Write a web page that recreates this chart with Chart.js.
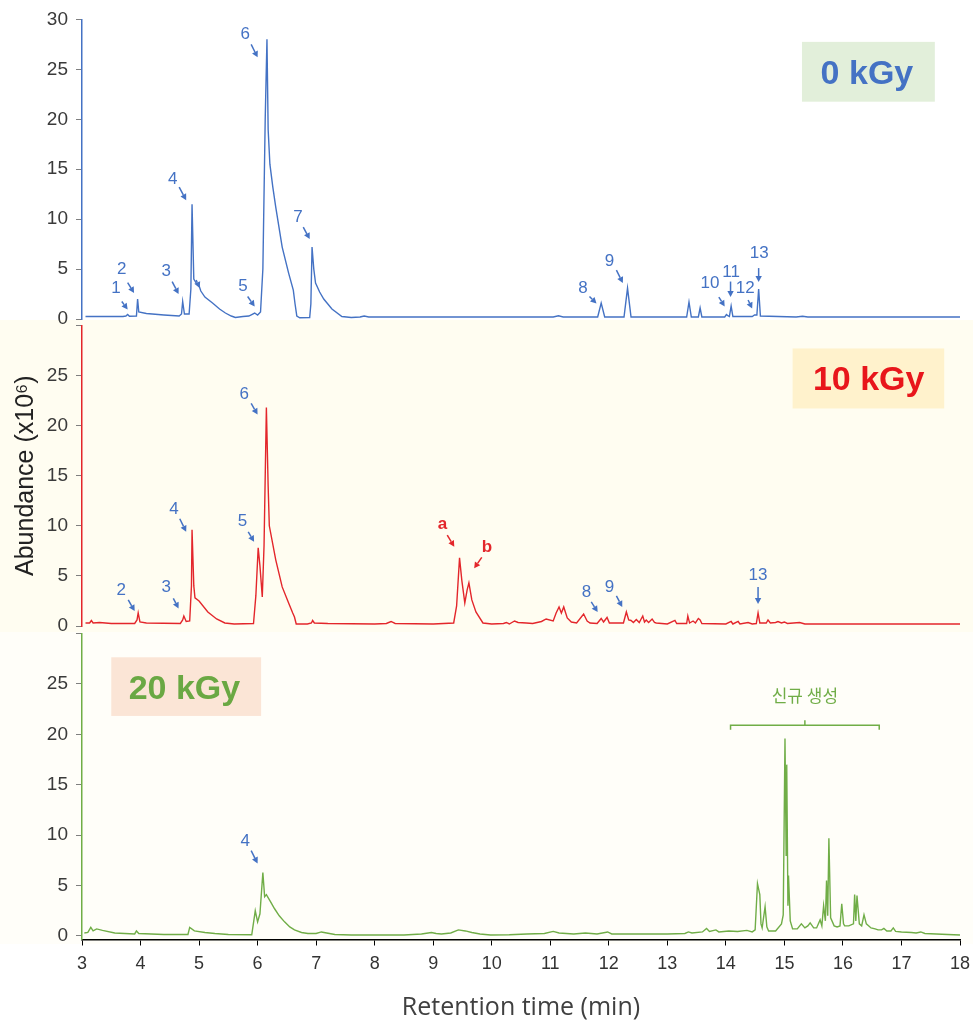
<!DOCTYPE html>
<html>
<head>
<meta charset="utf-8">
<script src="https://cdn.jsdelivr.net/npm/chart.js@4.4.1/dist/chart.umd.min.js"></script>
<style>
  html, body { margin: 0; padding: 0; background: #fff; }
  #page { position: relative; width: 973px; height: 1023px; overflow: hidden; }
  .band { position: absolute; left: 0; width: 973px; }
  canvas { position: absolute; left: 0; }
</style>
</head>
<body>
<div id="page">
  <div class="band" style="top:320px;height:312px;background:#fffdf1"></div>
  <div class="band" style="top:632px;height:312px;background:#fffef9"></div>
  <canvas id="c0" width="973" height="340" style="top:0px"></canvas>
  <canvas id="c10" width="973" height="341" style="top:305px"></canvas>
  <canvas id="c20" width="973" height="410" style="top:613px"></canvas>
</div>
<script>
// retention time (min), abundance (x10^6)
const trace0kGy = [
  [3.06,0.25],[3.70,0.25],[3.75,0.3],[3.78,0.45],[3.81,0.28],[3.93,0.3],[3.95,2.0],[3.97,0.7],
  [4.10,0.55],[4.40,0.4],[4.66,0.3],[4.70,0.5],[4.72,1.75],[4.75,0.5],[4.83,0.5],[4.86,3.0],
  [4.88,11.5],[4.91,4.0],[4.95,3.6],[4.99,3.5],[5.03,2.8],[5.10,2.2],[5.23,1.6],[5.35,1.0],
  [5.45,0.6],[5.55,0.3],[5.62,0.15],[5.75,0.25],[5.85,0.3],[5.90,0.45],[5.95,0.6],[6.00,0.4],
  [6.05,0.7],[6.09,5.0],[6.13,20.0],[6.16,28.0],[6.18,19.0],[6.21,15.5],[6.26,13.2],[6.31,11.2],
  [6.42,7.2],[6.53,4.6],[6.61,2.9],[6.64,1.5],[6.67,0.3],[6.72,0.12],[6.89,0.15],[6.91,1.5],
  [6.93,7.2],[6.96,5.0],[6.99,3.6],[7.06,2.7],[7.13,2.0],[7.27,1.0],[7.44,0.25],[7.60,0.15],
  [7.75,0.2],[7.82,0.3],[7.90,0.2],[9.00,0.2],[11.05,0.2],[11.14,0.32],[11.22,0.2],[11.81,0.2],
  [11.87,1.6],[11.93,0.2],[12.26,0.2],[12.32,3.1],[12.38,0.2],[13.33,0.2],[13.37,1.7],[13.41,0.2],
  [13.53,0.2],[13.56,1.1],[13.59,0.2],[13.98,0.2],[14.01,0.45],[14.04,0.3],[14.06,0.25],[14.09,1.3],
  [14.12,0.25],[14.45,0.25],[14.49,0.4],[14.53,0.4],[14.56,3.0],[14.59,0.3],[15.20,0.2],[15.31,0.28],
  [15.40,0.2],[18.00,0.2]
];

const trace10kGy = [
  [3.06,0.3],[3.13,0.3],[3.16,0.55],[3.19,0.3],[3.30,0.35],[3.50,0.25],[3.90,0.25],[3.94,0.6],
  [3.96,1.3],[3.99,0.4],[4.10,0.3],[4.68,0.25],[4.72,0.6],[4.74,1.0],[4.78,0.45],[4.84,0.5],
  [4.87,4.0],[4.88,9.6],[4.91,4.0],[4.93,2.8],[5.00,2.5],[5.15,1.4],[5.30,0.7],[5.44,0.3],
  [5.60,0.2],[5.93,0.25],[5.97,3.0],[6.01,7.8],[6.04,6.0],[6.08,2.9],[6.11,8.0],[6.15,21.8],
  [6.18,14.0],[6.20,10.0],[6.31,6.6],[6.42,3.9],[6.53,2.3],[6.60,1.3],[6.63,0.9],[6.66,0.2],
  [6.85,0.2],[6.92,0.3],[6.94,0.55],[6.97,0.3],[7.20,0.25],[8.00,0.2],[8.20,0.25],[8.28,0.45],
  [8.35,0.25],[9.00,0.2],[9.35,0.3],[9.40,2.0],[9.45,6.8],[9.49,4.5],[9.54,2.3],[9.58,3.6],
  [9.61,4.3],[9.66,2.6],[9.73,1.4],[9.85,0.3],[10.00,0.2],[10.20,0.25],[10.25,0.35],[10.30,0.2],
  [10.39,0.5],[10.45,0.35],[10.59,0.3],[10.70,0.25],[10.85,0.45],[10.93,0.7],[11.05,0.5],[11.10,1.3],
  [11.15,1.9],[11.19,1.3],[11.23,1.9],[11.29,0.8],[11.36,0.4],[11.45,0.3],[11.57,1.2],[11.63,0.5],
  [11.68,0.3],[11.80,0.25],[11.87,0.75],[11.91,0.4],[11.97,0.85],[12.01,0.3],[12.25,0.3],[12.30,1.4],
  [12.34,0.6],[12.38,0.55],[12.42,0.35],[12.47,0.65],[12.52,0.35],[12.58,1.0],[12.61,0.4],[12.64,0.6],
  [12.68,0.35],[12.74,0.7],[12.78,0.35],[12.81,0.3],[13.00,0.2],[13.13,0.55],[13.16,0.25],[13.33,0.25],
  [13.35,1.0],[13.38,0.3],[13.44,0.5],[13.48,0.3],[13.53,0.75],[13.56,0.6],[13.59,0.25],[14.00,0.2],
  [14.09,0.45],[14.12,0.2],[14.21,0.45],[14.24,0.2],[14.38,0.35],[14.45,0.2],[14.52,0.25],[14.55,1.3],
  [14.58,0.3],[14.69,0.3],[14.72,0.6],[14.76,0.3],[14.85,0.35],[14.89,0.45],[14.95,0.3],[15.00,0.4],
  [15.05,0.25],[15.26,0.35],[15.35,0.2],[18.00,0.2]
];

const trace20kGy = [
  [3.04,0.3],[3.10,0.35],[3.15,0.86],[3.19,0.5],[3.25,0.7],[3.35,0.55],[3.56,0.3],[3.90,0.2],
  [3.93,0.5],[3.97,0.25],[4.40,0.15],[4.81,0.15],[4.84,0.85],[4.92,0.5],[5.10,0.35],[5.27,0.25],
  [5.50,0.15],[5.90,0.12],[5.96,2.5],[6.00,1.4],[6.04,2.2],[6.09,6.3],[6.12,3.9],[6.15,4.1],
  [6.22,3.4],[6.29,2.7],[6.37,2.0],[6.46,1.4],[6.55,0.9],[6.63,0.6],[6.75,0.35],[6.86,0.25],
  [7.00,0.25],[7.09,0.4],[7.18,0.3],[7.32,0.15],[7.60,0.1],[8.00,0.1],[8.50,0.1],[8.80,0.2],
  [8.97,0.35],[9.05,0.25],[9.14,0.2],[9.30,0.3],[9.43,0.6],[9.55,0.5],[9.66,0.35],[9.80,0.2],
  [9.98,0.1],[10.30,0.12],[10.60,0.2],[10.90,0.25],[11.05,0.45],[11.15,0.3],[11.40,0.2],[11.60,0.3],
  [11.80,0.2],[11.98,0.4],[12.05,0.2],[12.50,0.2],[13.00,0.2],[13.30,0.25],[13.36,0.4],[13.42,0.3],
  [13.60,0.4],[13.67,0.75],[13.72,0.45],[13.83,0.6],[13.88,0.4],[14.05,0.5],[14.20,0.45],[14.36,0.55],
  [14.45,0.4],[14.50,0.6],[14.54,5.2],[14.58,4.1],[14.60,1.2],[14.62,0.8],[14.67,2.9],[14.70,0.9],
  [14.73,0.5],[14.85,0.5],[14.95,1.2],[14.98,2.1],[15.01,19.6],[15.03,8.0],[15.04,17.0],[15.06,3.0],
  [15.07,6.0],[15.10,1.5],[15.14,0.7],[15.22,0.7],[15.29,1.2],[15.35,0.8],[15.40,1.0],[15.44,1.3],
  [15.50,0.8],[15.55,0.8],[15.61,1.6],[15.64,1.0],[15.67,3.0],[15.70,1.5],[15.72,5.5],[15.74,2.0],
  [15.76,9.7],[15.79,1.8],[15.85,1.0],[15.90,0.9],[15.95,1.0],[15.98,3.2],[16.01,1.2],[16.03,1.0],
  [16.10,1.0],[16.18,1.2],[16.20,4.1],[16.22,1.5],[16.24,4.0],[16.28,1.2],[16.32,1.0],[16.36,2.1],
  [16.40,1.2],[16.48,0.8],[16.55,0.7],[16.60,0.6],[16.66,0.6],[16.70,0.75],[16.75,0.5],[16.82,0.5],
  [16.86,0.8],[16.90,0.45],[17.00,0.4],[17.17,0.35],[17.25,0.3],[17.33,0.4],[17.40,0.25],[17.79,0.15],
  [18.00,0.1]
];

const timeTicks = [3,4,5,6,7,8,9,10,11,12,13,14,15,16,17,18];
const abundanceTicks = [0,5,10,15,20,25,30];

// peak numbers: [label, time, abundance] and arrows [t1, a1, t2, a2]
const peaks0kGy = [['1',3.58,3.1],['2',3.68,5.0],['3',4.44,4.75],['4',4.55,14.0],['5',5.75,3.25],
  ['6',5.79,28.5],['7',6.69,10.2],['8',11.56,3.1],['9',12.01,5.75],['10',13.73,3.6],['11',14.09,4.7],
  ['12',14.33,3.1],['13',14.57,6.6]];
const arrows0kGy = [[3.68,1.75,3.78,0.95],[3.78,3.65,3.89,2.6],[4.54,3.75,4.65,2.5],[4.66,13.2,4.78,11.9],
  [4.95,3.9,5.01,3.1],[5.83,2.25,5.95,1.25],[5.89,27.5,6.0,26.2],[6.78,9.2,6.89,8.0],[11.67,2.25,11.79,1.55],
  [12.13,4.9,12.24,3.6],[13.88,2.2,13.98,1.25],[14.08,3.75,14.08,2.2],[14.38,1.9,14.45,1.05],[14.56,5.1,14.56,3.7]];

const peaks10kGy = [['2',3.67,3.6],['3',4.44,3.9],['4',4.57,11.6],['5',5.74,10.4],['6',5.77,23.1],
  ['8',11.62,3.4],['9',12.01,3.9],['13',14.55,5.1]];
const arrows10kGy = [[3.79,2.6,3.9,1.5],[4.56,2.76,4.65,1.75],[4.67,10.7,4.78,9.4],[5.84,9.4,5.94,8.4],
  [5.89,22.2,6.0,21.1],[11.7,2.4,11.81,1.4],[12.13,3.0,12.23,1.9],[14.55,3.9,14.55,2.2]];
const newPeaks10kGy = [['a',9.16,10.1],['b',9.92,7.9]];
const newArrows10kGy = [[9.24,9.07,9.36,7.9],[9.83,6.85,9.7,5.75]];

const peaks20kGy = [['4',5.79,9.36]];
const arrows20kGy = [[5.89,8.46,6.0,7.2]];

const BLUE = '#4472c4', RED = '#e3262b', GREEN = '#70ad47';
const SANS = '"Liberation Sans", Arial, sans-serif';

function drawArrow(ctx, x1, y1, x2, y2, color) {
  const ang = Math.atan2(y2 - y1, x2 - x1), h = 6, w = 3.2;
  const bx = x2 - h * Math.cos(ang), by = y2 - h * Math.sin(ang);
  ctx.strokeStyle = color; ctx.fillStyle = color; ctx.lineWidth = 1.5;
  ctx.beginPath(); ctx.moveTo(x1, y1); ctx.lineTo(bx, by); ctx.stroke();
  ctx.beginPath(); ctx.moveTo(x2, y2);
  ctx.lineTo(bx + w * Math.sin(ang), by - w * Math.cos(ang));
  ctx.lineTo(bx - w * Math.sin(ang), by + w * Math.cos(ang));
  ctx.closePath(); ctx.fill();
}

const marksPlugin = {
  id: 'marks',
  afterDraw(chart, args, opts) {
    const {ctx, scales: {x, y}} = chart;
    const px = v => x.getPixelForValue(v), py = v => y.getPixelForValue(v);
    ctx.save();
    if (opts.box) {
      const b = opts.box;
      ctx.fillStyle = b.fill;
      ctx.fillRect(px(b.t0), py(b.a0), px(b.t1) - px(b.t0), py(b.a1) - py(b.a0));
      ctx.fillStyle = b.color;
      ctx.font = 'bold 34px ' + SANS;
      ctx.textAlign = 'center'; ctx.textBaseline = 'alphabetic';
      ctx.fillText(b.text, px(b.tx), py(b.ax));
    }
    (opts.groups || []).forEach(g => {
      ctx.font = g.font;
      ctx.textAlign = 'center'; ctx.textBaseline = 'middle';
      g.labels.forEach(([txt, t, a]) => {
        ctx.fillStyle = g.color;
        ctx.fillText(txt, px(t), py(a));
      });
      g.arrows.forEach(([t1, a1, t2, a2]) => drawArrow(ctx, px(t1), py(a1), px(t2), py(a2), g.color));
    });
    if (opts.bracket) {
      const k = opts.bracket;
      ctx.strokeStyle = k.color; ctx.lineWidth = 1.5;
      ctx.beginPath();
      ctx.moveTo(px(k.t0), py(k.a - 0.45)); ctx.lineTo(px(k.t0), py(k.a));
      ctx.lineTo(px(k.t1), py(k.a)); ctx.lineTo(px(k.t1), py(k.a - 0.45));
      ctx.moveTo(px(k.tm), py(k.a)); ctx.lineTo(px(k.tm), py(k.a + 0.5));
      ctx.stroke();
      ctx.fillStyle = k.color;
      ctx.font = '17px "Noto Sans CJK KR", sans-serif';
      ctx.textAlign = 'center'; ctx.textBaseline = 'middle';
      ctx.fillText(k.text, px(k.tm), py(k.ta));
    }
    ctx.restore();
  }
};

function yAxis(color, min, hideTop, title) {
  return {
    min: min, max: 30,
    afterFit: s => { s.width = 82; },
    afterBuildTicks: s => { s.ticks = abundanceTicks.map(v => ({value: v})); },
    border: {color: color, width: 1.5},
    grid: {drawOnChartArea: false, drawTicks: true, tickLength: 6, tickColor: '#7f7f7f'},
    ticks: {
      padding: 8, color: '#3a3a3a', font: {family: SANS, size: 19},
      callback: v => (hideTop && v === 30) ? '' : v
    },
    title: title || {display: false}
  };
}

function hiddenX() {
  return {type: 'linear', min: 3, max: 18, display: false};
}

function makeChart(id, trace, color, scales, padding, marks) {
  return new Chart(document.getElementById(id), {
    type: 'line',
    data: {
      datasets: [{
        data: trace.map(([t, a]) => ({x: t, y: a})),
        borderColor: color, borderWidth: 1.4, pointRadius: 0, tension: 0, fill: false
      }]
    },
    options: {
      responsive: false, animation: false, events: [],
      layout: {padding: padding},
      plugins: {legend: {display: false}, tooltip: {enabled: false}, marks: marks},
      scales: scales
    },
    plugins: [marksPlugin]
  });
}

makeChart('c0', trace0kGy, BLUE,
  {x: hiddenX(), y: yAxis(BLUE, 0, false)},
  {top: 18.3, bottom: 21, left: 0, right: 13},
  {
    box: {text: '0 kGy', color: BLUE, fill: '#e2efda', t0: 15.30, t1: 17.57, a0: 27.75, a1: 21.76, tx: 16.41, ax: 23.5},
    groups: [{color: BLUE, font: '17px ' + SANS, labels: peaks0kGy, arrows: arrows0kGy}]
  });

makeChart('c10', trace10kGy, RED,
  {x: hiddenX(), y: yAxis(RED, 0, true, {
    display: true, text: 'Abundance (x10\u2076)', color: '#222',
    font: {family: SANS, size: 25}, padding: {top: 11, bottom: 0}
  })},
  {top: 20.3, bottom: 20, left: 0, right: 13},
  {
    box: {text: '10 kGy', color: '#e8161b', fill: '#fff2cc', t0: 15.14, t1: 17.73, a0: 27.69, a1: 21.7, tx: 16.44, ax: 23.5},
    groups: [
      {color: BLUE, font: '17px ' + SANS, labels: peaks10kGy, arrows: arrows10kGy},
      {color: '#e3262b', font: 'bold 17px ' + SANS, labels: newPeaks10kGy, arrows: newArrows10kGy}
    ]
  });

makeChart('c20', trace20kGy, GREEN,
  {
    x: {
      type: 'linear', min: 3, max: 18,
      afterFit: s => { s.height = 83.5; s.paddingLeft = 0; s.paddingRight = 0; },
      afterBuildTicks: s => { s.ticks = timeTicks.map(v => ({value: v})); },
      border: {color: '#000', width: 1.5},
      grid: {drawOnChartArea: false, drawTicks: true, tickLength: 6, tickColor: '#000'},
      ticks: {padding: 8, color: '#333', font: {family: SANS, size: 18}, maxRotation: 0},
      title: {display: true, text: 'Retention time (min)', color: '#404040',
        font: {family: '"Open Sans", sans-serif', size: 25}, padding: {top: 0, bottom: 0}}
    },
    y: yAxis(GREEN, -0.35, true)
  },
  {top: 20.6, bottom: 0, left: 0, right: 13},
  {
    box: {text: '20 kGy', color: '#6aa843', fill: '#fbe5d6', t0: 3.50, t1: 6.06, a0: 27.65, a1: 21.83, tx: 4.75, ax: 23.55},
    groups: [{color: BLUE, font: '17px ' + SANS, labels: peaks20kGy, arrows: arrows20kGy}],
    bracket: {color: GREEN, t0: 14.08, t1: 16.62, tm: 15.35, a: 20.9, ta: 23.9, text: '신규 생성'}
  });
</script>
</body>
</html>
